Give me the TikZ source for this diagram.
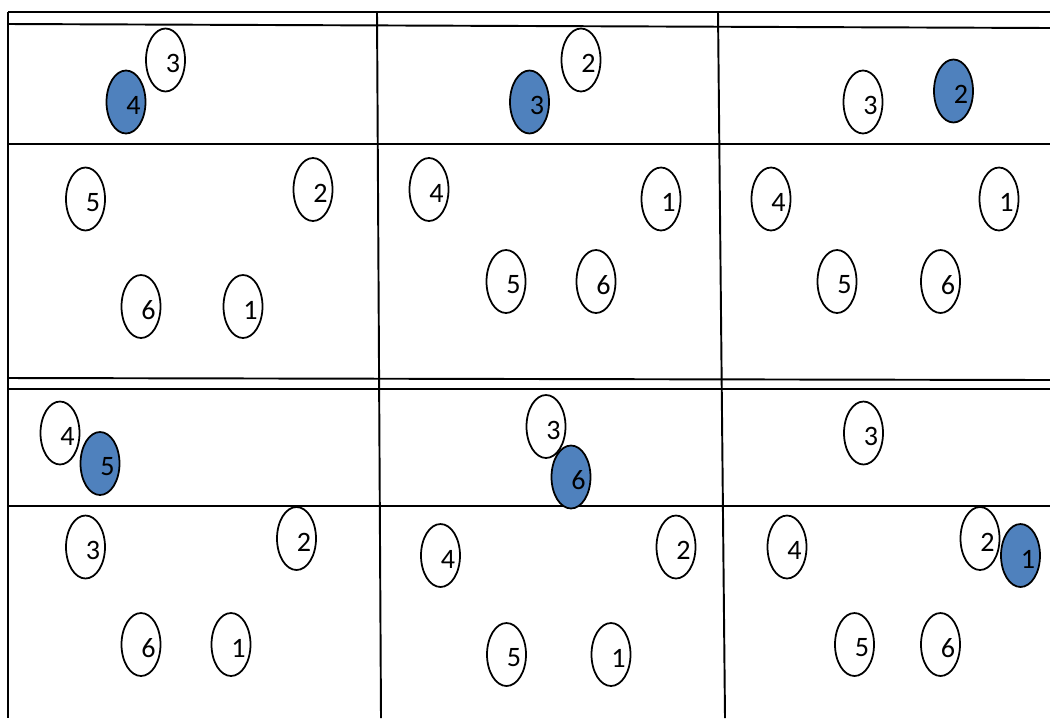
\documentclass[tikz,border=0pt]{standalone}
\usepackage{fontspec}
\setmainfont{Carlito}
\usepackage{tikz}
\usetikzlibrary{shapes.geometric}
\definecolor{selblue}{HTML}{4F81BD}
\tikzset{
  ballnode/.style={ellipse,draw=black,line width=1pt,fill=white,
    minimum width=0.78cm,minimum height=1.26cm,inner sep=0pt,
    label={[font=\fontsize{16}{19}\selectfont,xshift=0.15cm,yshift=-0.07cm]center:#1}},
  selnode/.style={ballnode=#1,fill=selblue},
  gridline/.style={line width=1.1pt,black},
}

\begin{document}
\begin{tikzpicture}[x=0.02cm,y=-0.02cm]
  \useasboundingbox (0,0) rectangle (1050,718);
  % ---- table rules ----
  \draw[gridline] (8,12) -- (1050,12);
  \draw[gridline] (8,24) -- (1050,28);
  \draw[gridline] (8,144) -- (1050,144);
  \draw[gridline] (8,378) -- (1050,380);
  \draw[gridline] (8,389) -- (1050,389);
  \draw[gridline] (8,506) -- (1050,506);
  \draw[gridline] (8,12) -- (8,718);
  \draw[gridline] (377,12) -- (381,718);
  \draw[gridline] (718,12) -- (725,718);
  % ---- (a) top left ----
  \node[ballnode=3] (pA3) at (165.5,60) {};
  \node[ballnode=5] (pA5) at (85.5,199) {};
  \node[ballnode=2] (pA2) at (313,189.5) {};
  \node[ballnode=6] (pA6) at (141,306.5) {};
  \node[ballnode=1] (pA1) at (243,306.5) {};
  \node[selnode=4] (pA4) at (126,102) {};
  % ---- (b) top middle ----
  \node[ballnode=2] (pB2) at (581,60) {};
  \node[ballnode=4] (pB4) at (429,189.5) {};
  \node[ballnode=1] (pB1) at (661,199) {};
  \node[ballnode=5] (pB5) at (506,281.5) {};
  \node[ballnode=6] (pB6) at (596,281.5) {};
  \node[selnode=3] (pB3) at (529.5,102) {};
  % ---- (c) top right ----
  \node[ballnode=3] (pC3) at (863,102) {};
  \node[ballnode=4] (pC4) at (771,199) {};
  \node[ballnode=1] (pC1) at (999,199) {};
  \node[ballnode=5] (pC5) at (837,281.5) {};
  \node[ballnode=6] (pC6) at (940.5,281.5) {};
  \node[selnode=2] (pC2) at (953.5,91) {};
  % ---- (d) bottom left ----
  \node[ballnode=4] (pD4) at (60,433) {};
  \node[ballnode=3] (pD3) at (85.5,547) {};
  \node[ballnode=2] (pD2) at (296.5,538.5) {};
  \node[ballnode=6] (pD6) at (141,644.5) {};
  \node[ballnode=1] (pD1) at (231,644.5) {};
  \node[selnode=5] (pD5) at (100,463.5) {};
  % ---- (e) bottom middle ----
  \node[ballnode=3] (pE3) at (546,426.5) {};
  \node[ballnode=4] (pE4) at (440.5,555.5) {};
  \node[ballnode=2] (pE2) at (676,547) {};
  \node[ballnode=5] (pE5) at (506.5,654.5) {};
  \node[ballnode=1] (pE1) at (611,654.5) {};
  \node[selnode=6] (pE6) at (571,477) {};
  % ---- (f) bottom right ----
  \node[ballnode=3] (pF3) at (863.5,433) {};
  \node[ballnode=4] (pF4) at (787,547) {};
  \node[ballnode=2] (pF2) at (980,538.5) {};
  \node[ballnode=5] (pF5) at (854.5,644.5) {};
  \node[ballnode=6] (pF6) at (940.5,644.5) {};
  \node[selnode=1] (pF1) at (1020.5,555.5) {};
\end{tikzpicture}
\end{document}
